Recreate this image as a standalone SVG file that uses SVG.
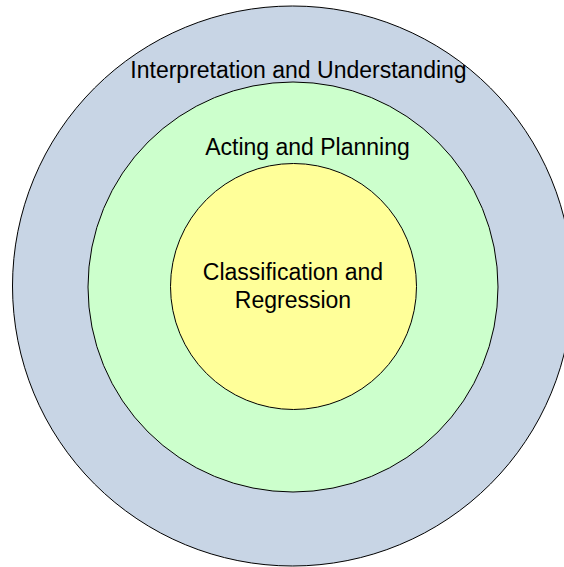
<svg xmlns="http://www.w3.org/2000/svg" width="564" height="567" viewBox="0 0 564 567">
<style>
.ring{stroke:#000;stroke-width:1}
.lbl{font-family:"Liberation Sans",Arial,sans-serif;font-size:23px;fill:#000;text-anchor:middle}
</style>
<rect width="564" height="567" fill="#fff"/>
<g id="outer">
<circle class="ring" cx="292.5" cy="286" r="280" fill="#C8D5E5"/>
<text class="lbl" x="298.5" y="78">Interpretation and Understanding</text>
</g>
<g id="middle">
<circle class="ring" cx="293" cy="287" r="205" fill="#CCFFCC"/>
<text class="lbl" x="307.5" y="155">Acting and Planning</text>
</g>
<g id="inner">
<circle class="ring" cx="293.5" cy="286.5" r="123" fill="#FFFF99"/>
<text class="lbl" x="293" y="280">Classification and</text>
<text class="lbl" x="293" y="308">Regression</text>
</g>
<g id="connectors"/>
</svg>
